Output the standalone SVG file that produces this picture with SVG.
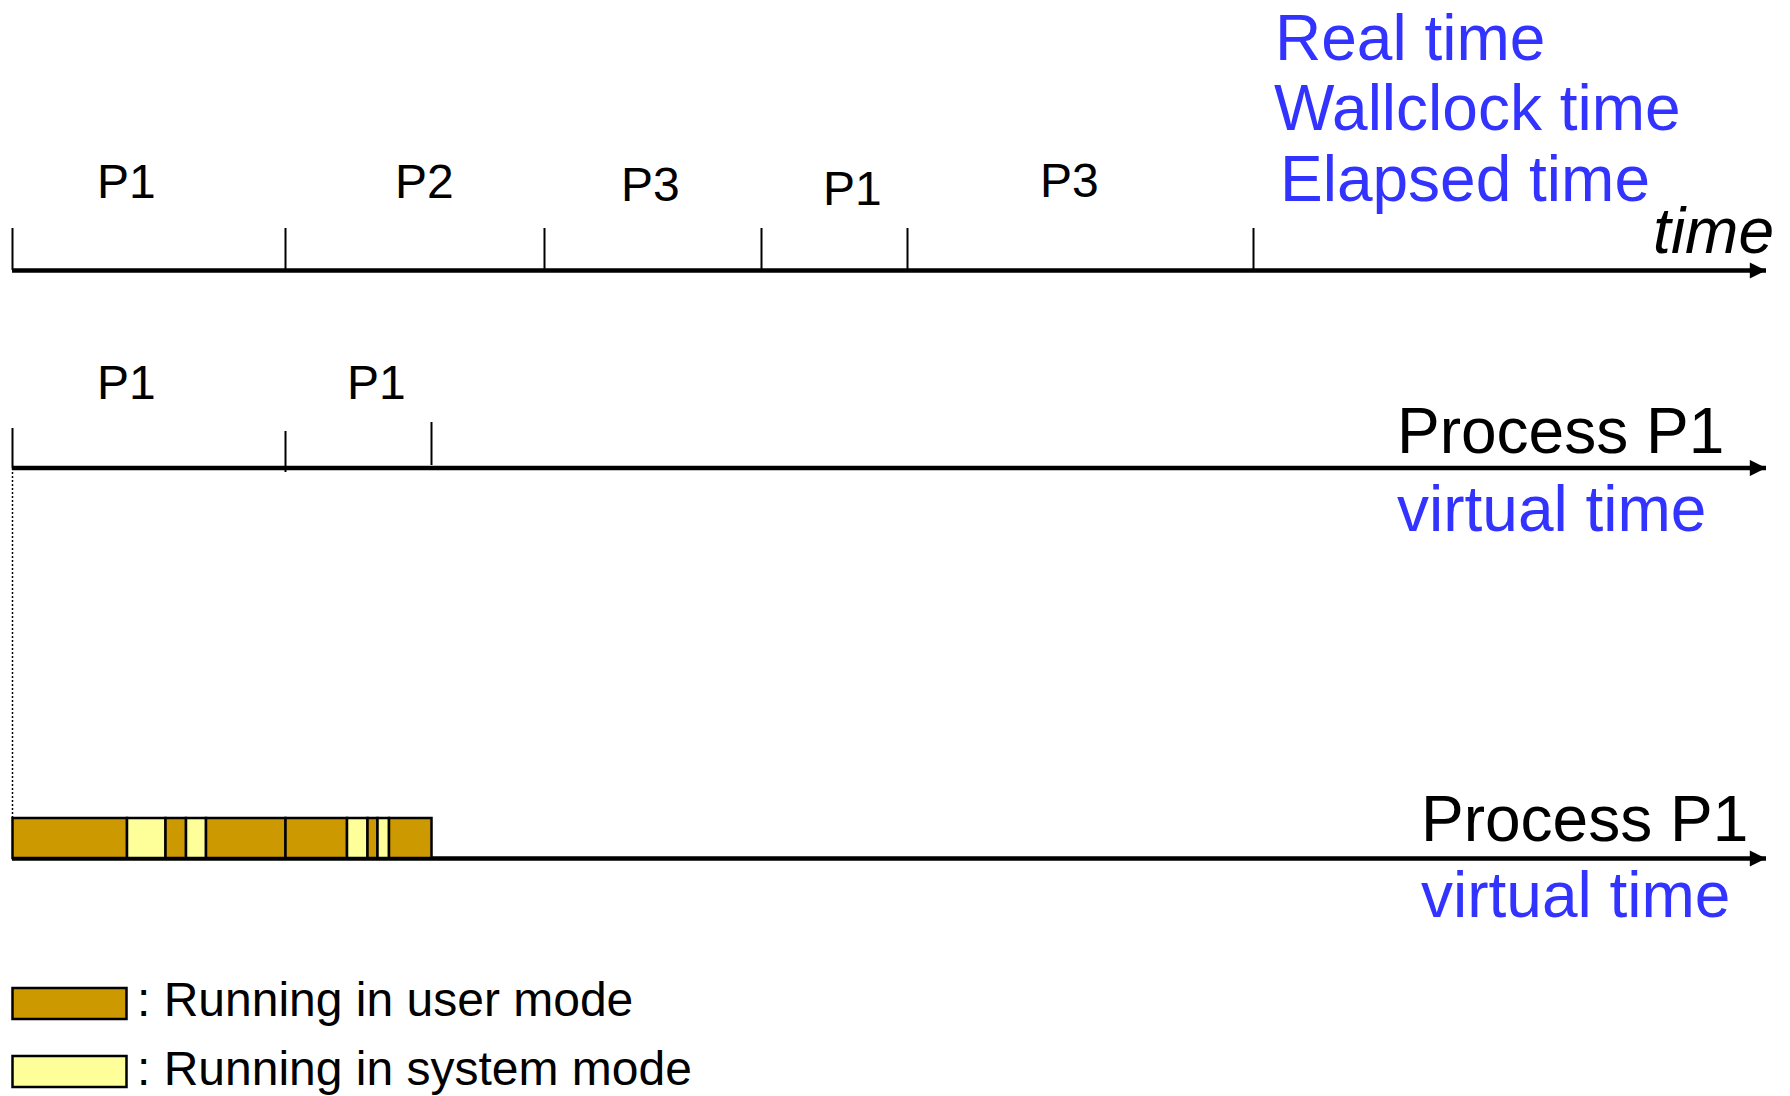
<svg xmlns="http://www.w3.org/2000/svg" width="1790" height="1096" viewBox="0 0 1790 1096">
<style>
.lbl{font-family:"Liberation Sans",Arial,sans-serif;font-size:48px;fill:#000}
.big{font-family:"Liberation Sans",Arial,sans-serif;font-size:64px;fill:#000}
.blue{font-family:"Liberation Sans",Arial,sans-serif;font-size:64px;fill:#3333FF}
.axis{stroke:#000;stroke-width:4.5;fill:none}
.tick{stroke:#000;stroke-width:2;fill:none}
.user{fill:#CC9900;stroke:#000;stroke-width:2.5}
.sys{fill:#FFFF99;stroke:#000;stroke-width:2.5}
</style>
<defs>
<marker id="ah" viewBox="0 0 10 10" refX="10" refY="5" markerWidth="4.2" markerHeight="3.6" orient="auto" markerUnits="strokeWidth">
<path d="M0,0 L10,5 L0,10 z" fill="#000"/>
</marker>
</defs>
<g id="connectors">
<line class="axis" x1="12" y1="270.5" x2="1766" y2="270.5" marker-end="url(#ah)"/>
<line class="axis" x1="12" y1="468" x2="1766" y2="468" marker-end="url(#ah)"/>
<line class="axis" x1="12" y1="858.5" x2="1766" y2="858.5" marker-end="url(#ah)"/>
<line x1="12.5" y1="468" x2="12.5" y2="818" stroke="#000" stroke-width="1.5" stroke-dasharray="2,2"/>
</g>
<g id="realtime-axis">
<line class="tick" x1="12.5" y1="228" x2="12.5" y2="270"/>
<line class="tick" x1="285.5" y1="228" x2="285.5" y2="270"/>
<line class="tick" x1="544.5" y1="228" x2="544.5" y2="270"/>
<line class="tick" x1="761.5" y1="228" x2="761.5" y2="270"/>
<line class="tick" x1="907.5" y1="228" x2="907.5" y2="270"/>
<line class="tick" x1="1253.5" y1="228" x2="1253.5" y2="270"/>
<text class="lbl" x="97" y="198">P1</text>
<text class="lbl" x="395" y="198">P2</text>
<text class="lbl" x="621" y="201">P3</text>
<text class="lbl" x="823" y="205">P1</text>
<text class="lbl" x="1040" y="197">P3</text>
<text class="blue" x="1275" y="60">Real time</text>
<text class="blue" x="1274" y="130">Wallclock time</text>
<text class="blue" x="1280" y="201">Elapsed time</text>
<text class="big" x="1774" y="253" text-anchor="end" font-style="italic">time</text>
</g>
<g id="process-axis-1">
<line class="tick" x1="12.5" y1="428" x2="12.5" y2="468"/>
<line class="tick" x1="285.5" y1="431" x2="285.5" y2="472"/>
<line class="tick" x1="431.5" y1="422" x2="431.5" y2="465"/>
<text class="lbl" x="97" y="399">P1</text>
<text class="lbl" x="347" y="399">P1</text>
<text class="big" x="1397" y="453">Process P1</text>
<text class="blue" x="1397" y="531">virtual time</text>
</g>
<g id="process-axis-2">
<rect class="user" x="12.5" y="818" width="114.5" height="40"/>
<rect class="sys" x="127" y="818" width="38.5" height="40"/>
<rect class="user" x="165.5" y="818" width="20.5" height="40"/>
<rect class="sys" x="186" y="818" width="20" height="40"/>
<rect class="user" x="206" y="818" width="79.5" height="40"/>
<rect class="user" x="285.5" y="818" width="61.5" height="40"/>
<rect class="sys" x="347" y="818" width="20.5" height="40"/>
<rect class="user" x="367.5" y="818" width="10" height="40"/>
<rect class="sys" x="377.5" y="818" width="11.5" height="40"/>
<rect class="user" x="389" y="818" width="42.5" height="40"/>
<text class="big" x="1421" y="841">Process P1</text>
<text class="blue" x="1421" y="917">virtual time</text>
</g>
<g id="legend">
<rect class="user" x="12.5" y="988" width="114" height="31"/>
<text class="lbl" x="137" y="1016">: Running in user mode</text>
<rect class="sys" x="12.5" y="1056" width="114" height="31"/>
<text class="lbl" x="137" y="1085">: Running in system mode</text>
</g>
</svg>
